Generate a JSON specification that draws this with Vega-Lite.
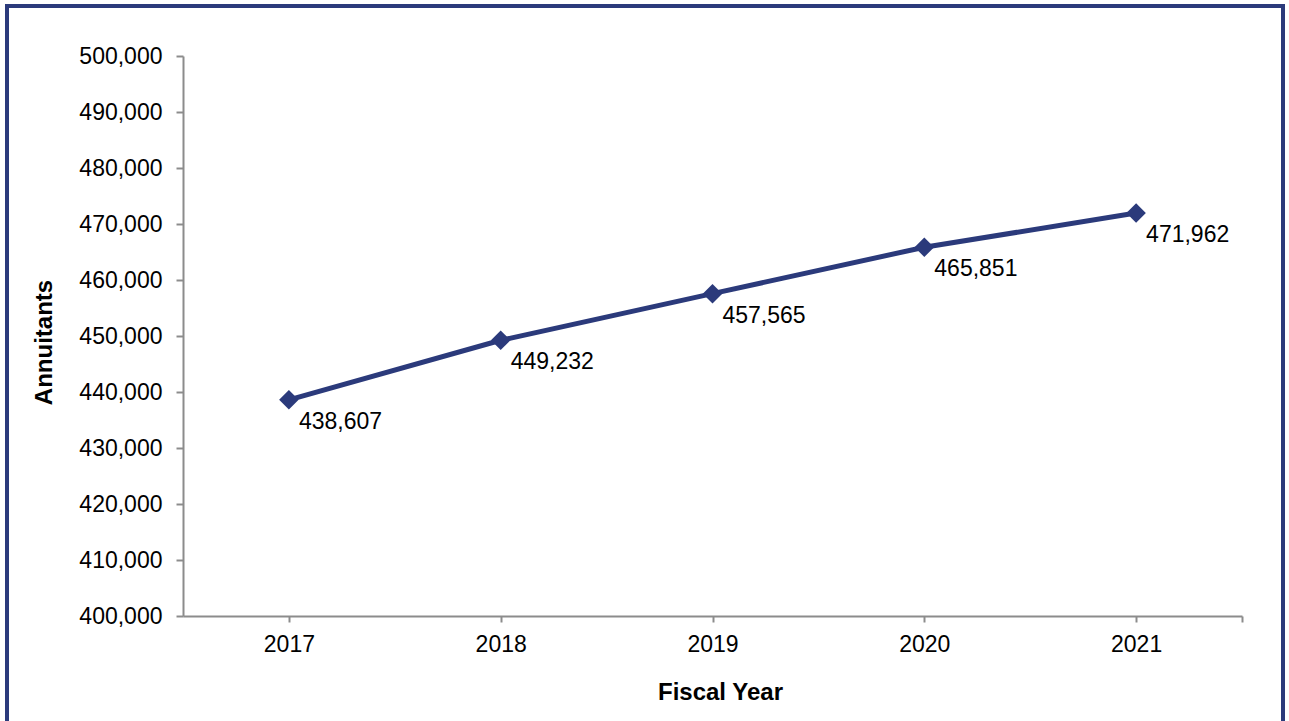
{
  "$schema": "https://vega.github.io/schema/vega-lite/v6.json",
  "width": 1276,
  "height": 718,
  "autosize": "none",
  "padding": {"left": 7, "top": 6, "right": 6, "bottom": 0},
  "background": "white",
  "config": {
    "view": {"stroke": "#2B3A7B", "strokeWidth": 4},
    "font": "Liberation Sans"
  },
  "data": {
    "values": [
      {"year": 2017, "annuitants": 438607},
      {"year": 2018, "annuitants": 449232},
      {"year": 2019, "annuitants": 457565},
      {"year": 2020, "annuitants": 465851},
      {"year": 2021, "annuitants": 471962}
    ]
  },
  "encoding": {
    "x": {
      "field": "year",
      "type": "quantitative",
      "scale": {"domain": [2016.5, 2021.5], "range": [176, 1235], "nice": false, "zero": false},
      "axis": {
        "title": "Fiscal Year",
        "values": [2017, 2018, 2019, 2020, 2021, 2021.5],
        "format": "d",
        "labelExpr": "datum.value > 2021.2 ? '' : datum.label",
        "offset": -108,
        "grid": false,
        "domainColor": "#8c8c8c",
        "domainWidth": 2,
        "tickColor": "#8c8c8c",
        "tickWidth": 2,
        "tickSize": 6,
        "labelFontSize": 23,
        "labelColor": "black",
        "labelPadding": 11,
        "labelFlush": false,
        "labelOverlap": false,
        "titleFontSize": 24,
        "titleFontWeight": "bold",
        "titleColor": "black",
        "titlePadding": 24,
        "titleX": 713
      }
    },
    "y": {
      "field": "annuitants",
      "type": "quantitative",
      "scale": {"domain": [400000, 500000], "range": [610, 50], "nice": false, "zero": false},
      "axis": {
        "title": "Annuitants",
        "values": [400000, 410000, 420000, 430000, 440000, 450000, 460000, 470000, 480000, 490000, 500000],
        "format": ",d",
        "offset": -176,
        "grid": false,
        "domainColor": "#8c8c8c",
        "domainWidth": 2,
        "tickColor": "#8c8c8c",
        "tickWidth": 2,
        "tickSize": 7,
        "labelFontSize": 23,
        "labelColor": "black",
        "labelPadding": 14,
        "labelFlush": false,
        "labelOverlap": false,
        "titleFontSize": 24,
        "titleFontWeight": "bold",
        "titleColor": "black",
        "titlePadding": 22,
        "titleY": 336
      }
    }
  },
  "layer": [
    {"mark": {"type": "line", "color": "#2B3A7B", "strokeWidth": 5}},
    {"mark": {"type": "point", "shape": "diamond", "filled": true, "size": 380, "color": "#2B3A7B", "opacity": 1}},
    {
      "mark": {"type": "text", "align": "left", "baseline": "middle", "dx": 10, "dy": 22, "fontSize": 23, "color": "black"},
      "encoding": {"text": {"field": "annuitants", "type": "quantitative", "format": ",d"}}
    }
  ]
}
